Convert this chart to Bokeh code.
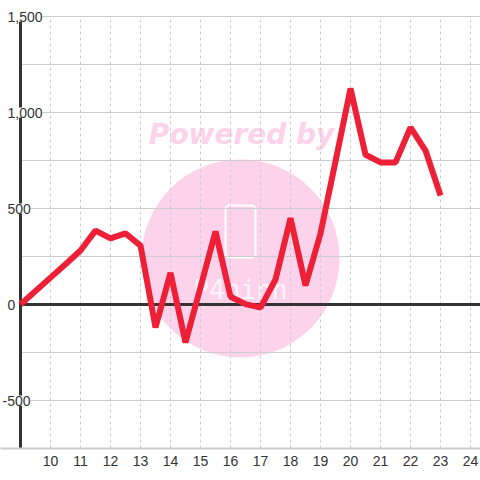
from bokeh.plotting import figure
from bokeh.models import FixedTicker, Span, LabelSet, ColumnDataSource
from bokeh.core.properties import value
from bokeh.embed import file_html
from bokeh.resources import INLINE

# ---- data ----
hours = [9, 9.5, 10, 10.5, 11, 11.5, 12, 12.5, 13, 13.5, 14, 14.5, 15, 15.5,
         16, 16.5, 17, 17.5, 18, 18.5, 19, 19.5, 20, 20.5, 21, 21.5, 22, 22.5, 23]
values = [0, 70, 140, 210, 281, 385, 344, 370, 307, -120, 165, -198, 90, 380,
          40, 2, -16, 130, 450, 99, 370, 745, 1125, 780, 740, 740, 922, 802, 568]
x_ticks = [10, 11, 12, 13, 14, 15, 16, 17, 18, 19, 20, 21, 22, 23, 24]
y_ticks = [-500, 0, 500, 1000, 1500]
y_tick_labels = ["-500", "0", "500", "1,000", "1,500"]
y_grid = [-500, -250, 0, 250, 500, 750, 1000, 1250, 1500]

X_MIN, X_MAX = 9, 24.333
Y_MIN, Y_MAX = -750, 1500

FONT = "Liberation Sans"
TEXT = "#333333"
GRID = "#cccccc"
PINK = "#fcd3ea"

# frame spans the label gutter too, so labels can sit over the axis line unclipped
x_pad = 20 / 30.0        # 20px at 30px per hour
y_pad = 16 / 0.192       # 16px at 0.192px per unit
p = figure(width=480, height=480, x_range=(X_MIN - x_pad, X_MAX), y_range=(Y_MIN, Y_MAX + y_pad),
           output_backend="svg", toolbar_location=None,
           min_border_left=0, min_border_right=0, min_border_top=0, min_border_bottom=32)
p.outline_line_color = None
p.background_fill_color = "white"
p.border_fill_color = "white"
p.grid.visible = False
p.yaxis.visible = False

# watermark
p.scatter(x=[16.333], y=[240], size=198, marker="circle", fill_color=PINK, line_color=None)
p.rect(x=[16.333], y=[380], width=30, height=52, width_units="screen", height_units="screen",
       fill_color=None, line_color="white", line_width=2, border_radius=4)
p.text(x=[16.333], y=[78], text=["P4ninn"], text_font=value("DejaVu Sans Mono"),
       text_font_size="26px", text_color="white", text_alpha=0.8,
       text_align="center", text_baseline="middle")
p.text(x=[16.37], y=[885], text=["Powered by"], text_font=value("DejaVu Sans"),
       text_font_style="bold italic", text_font_size="28px", text_color=PINK,
       text_align="center", text_baseline="middle")

# grid lines
p.segment(x0=X_MIN, x1=X_MAX, y0=y_grid, y1=y_grid, line_color=GRID, line_width=1)
p.segment(x0=x_ticks, x1=x_ticks, y0=Y_MIN, y1=Y_MAX, line_color=GRID, line_width=1,
          line_dash="3 3")

# zero line and left axis line
p.segment(x0=[X_MIN], x1=[X_MAX], y0=[0], y1=[0], line_color=TEXT, line_width=3)
p.segment(x0=[X_MIN], x1=[X_MIN], y0=[Y_MIN], y1=[Y_MAX], line_color=TEXT, line_width=3)

# x axis
p.xaxis.ticker = FixedTicker(ticks=x_ticks)
p.xaxis.axis_line_color = GRID
p.xaxis.axis_line_width = 2
p.xaxis.major_tick_line_color = None
p.xaxis.minor_tick_line_color = None
p.xaxis.major_label_text_font = FONT
p.xaxis.major_label_text_font_size = "14px"
p.xaxis.major_label_text_color = TEXT
p.xaxis.major_label_standoff = 1

# data line
p.line(hours, values, line_color="#ee2037", line_width=6)

offsets = [-18 if t.startswith("-") else -13 for t in y_tick_labels]
src = ColumnDataSource(dict(x=[X_MIN] * len(y_ticks), y=y_ticks, t=y_tick_labels, dx=offsets))
p.add_layout(LabelSet(x="x", y="y", text="t", source=src, x_offset="dx",
                      text_align="left", text_baseline="middle",
                      text_font=value(FONT), text_font_size="14px", text_color=TEXT,
                      background_fill_color="white"))

open("out.html", "w").write(file_html(p, INLINE))
